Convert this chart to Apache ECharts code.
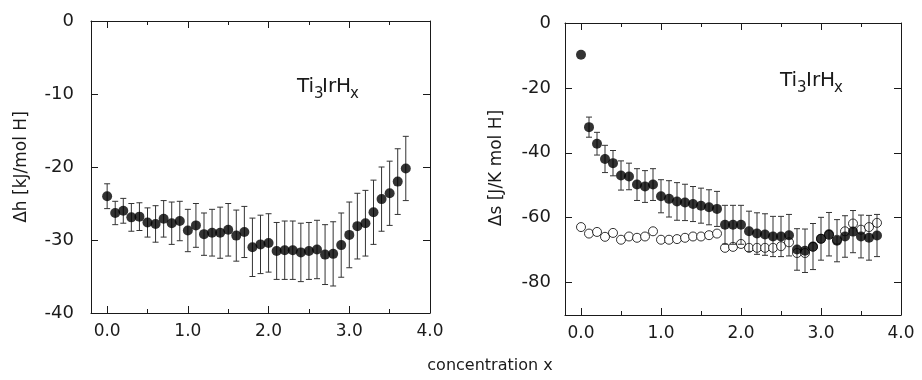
<!DOCTYPE html>
<html><head><meta charset="utf-8">
<script src="https://cdn.jsdelivr.net/npm/echarts@6/dist/echarts.min.js"></script>
<style>html,body{margin:0;padding:0;background:#fff}#c{width:922px;height:380px}</style>
</head><body><div id="c"></div>
<script>
// ---- data ----
const xConc = [0.0,0.1,0.2,0.3,0.4,0.5,0.6,0.7,0.8,0.9,1.0,1.1,1.2,1.3,1.4,1.5,1.6,1.7,1.8,1.9,
               2.0,2.1,2.2,2.3,2.4,2.5,2.6,2.7,2.8,2.9,3.0,3.1,3.2,3.3,3.4,3.5,3.6,3.7];
const dhValues = [-24.0,-26.3,-26.0,-26.9,-26.8,-27.6,-27.8,-27.1,-27.7,-27.4,
                  -28.7,-28.0,-29.2,-29.0,-29.0,-28.6,-29.4,-28.9,-31.0,-30.6,
                  -30.4,-31.5,-31.4,-31.4,-31.7,-31.5,-31.3,-32.0,-31.9,-30.7,
                  -29.3,-28.1,-27.7,-26.2,-24.4,-23.6,-22.0,-20.2];
const dhErrors = [1.7,1.6,1.7,1.9,1.9,2.0,2.5,2.5,2.9,2.7,
                  2.9,3.0,2.9,3.2,3.5,3.6,3.5,3.5,4.0,4.0,
                  4.0,3.9,4.0,4.0,4.0,3.9,4.0,4.1,4.4,4.4,
                  4.5,4.5,4.5,4.4,4.4,4.4,4.5,4.4];
const dsFilled = [-9.8,-32.1,-37.2,-41.9,-43.2,-47.0,-47.3,-49.8,-50.4,-49.8,
                  -53.4,-54.2,-55.0,-55.3,-55.8,-56.3,-56.8,-57.3,-62.2,-62.2,
                  -62.2,-64.2,-64.9,-65.2,-65.8,-65.8,-65.4,-69.8,-70.2,-68.9,
                  -66.5,-65.1,-67.1,-65.8,-64.3,-65.8,-66.2,-65.5];
const dsErrors = [0,3.1,3.5,4.2,3.9,4.5,4.1,4.9,4.9,4.9,
                  5.1,5.6,5.8,5.6,5.4,5.4,5.4,5.4,6.0,6.0,
                  6.0,6.2,6.4,6.4,6.2,6.2,6.4,6.4,6.7,7.1,
                  6.6,6.7,6.5,6.4,6.5,6.6,6.9,6.5];
const dsOpen = [-62.9,-64.9,-64.4,-65.9,-64.7,-66.8,-65.8,-66.2,-65.8,-64.2,
                -66.8,-66.8,-66.6,-66.2,-65.8,-65.8,-65.4,-64.9,-69.3,-69.0,
                -68.1,-69.3,-69.3,-69.3,-69.3,-68.8,-67.6,-70.9,-70.9,-69.0,
                -66.5,-65.3,-66.8,-64.2,-61.8,-63.7,-62.9,-61.6];
const xMajorTicks = [0,1,2,3,4];
const xMinorTicks = [0.5,1.5,2.5,3.5];
const dhTicks = [0,-10,-20,-30,-40];
const dsTicks = [0,-20,-40,-60,-80];
const dhName = 'Δh [kJ/mol H]';
const dsName = 'Δs [J/K mol H]';
const xName = 'concentration x';

// ---- chart ----
const FONT = 'DejaVu Sans';
const INK = '#1a1a1a';
const chart = echarts.init(document.getElementById('c'), null, {renderer:'canvas'});

function xAxes(gi, min, max) {
  const base = {type:'value', gridIndex:gi, min:min, max:max, splitLine:{show:false},
    axisLine:{show:true, onZero:false, lineStyle:{color:INK, width:1}}};
  const tick = (vals, len) => ({show:true, inside:true, length:len, customValues:vals, lineStyle:{color:INK, width:1}});
  return [
    Object.assign({}, base, {position:'bottom', axisTick:tick(xMajorTicks,7),
      axisLabel:{show:true, customValues:xMajorTicks, formatter:v=>Number(v).toFixed(1), margin:10,
        fontSize:17, color:INK, fontFamily:FONT}}),
    Object.assign({}, base, {position:'bottom', axisLine:{show:false, onZero:false}, axisTick:tick(xMinorTicks,4), axisLabel:{show:false}}),
    Object.assign({}, base, {position:'top', axisTick:tick(xMajorTicks,7), axisLabel:{show:false}}),
    Object.assign({}, base, {position:'top', axisLine:{show:false, onZero:false}, axisTick:tick(xMinorTicks,4), axisLabel:{show:false}})
  ];
}
function yAxes(gi, min, max, ticks, margin) {
  const base = {type:'value', gridIndex:gi, min:min, max:max, splitLine:{show:false},
    axisLine:{show:true, onZero:false, lineStyle:{color:INK, width:1}},
    axisTick:{show:true, inside:true, length:7, customValues:ticks, lineStyle:{color:INK, width:1}}};
  return [
    Object.assign({}, base, {position:'left', axisLabel:{show:true, customValues:ticks, margin:margin,
      fontSize:18, color:INK, fontFamily:FONT, showMinLabel:true, showMaxLabel:true}}),
    Object.assign({}, base, {position:'right', axisLabel:{show:false}})
  ];
}
function errorSeries(xi, yi, vals, errs) {
  const data = [];
  vals.forEach((v,i)=>{ if (errs[i] > 0) data.push([xConc[i], v - errs[i], v + errs[i]]); });
  return {
    type:'custom', xAxisIndex:xi, yAxisIndex:yi, z:2, silent:true,
    encode:{x:0, y:[1,2]}, data:data,
    renderItem:function(params, api){
      const x = api.value(0);
      const lo = api.coord([x, api.value(1)]);
      const hi = api.coord([x, api.value(2)]);
      const hw = 3;
      const st = {stroke:'#333', lineWidth:1};
      return {type:'group', children:[
        {type:'line', shape:{x1:lo[0], y1:lo[1], x2:hi[0], y2:hi[1]}, style:st},
        {type:'line', shape:{x1:hi[0]-hw, y1:hi[1], x2:hi[0]+hw, y2:hi[1]}, style:st},
        {type:'line', shape:{x1:lo[0]-hw, y1:lo[1], x2:lo[0]+hw, y2:lo[1]}, style:st}
      ]};
    }
  };
}
function formula(x0, yc, xs) {
  const parts = [['Ti',0,0,20],['3',xs[0],7,15],['IrH',xs[1],0,20],['x',xs[2],7,15]];
  return parts.map(p => ({type:'text', x:x0+p[1], y:yc+p[2], silent:true,
    style:{text:p[0], fontSize:p[3], fontFamily:FONT, fill:INK, textAlign:'left', textVerticalAlign:'middle'}}));
}

const option = {
  animation:false,
  backgroundColor:'#fff',
  grid:[
    {left:91, top:21, width:339, height:292},
    {left:565, top:23, width:336, height:292}
  ],
  xAxis: xAxes(0, -0.2, 4).concat(xAxes(1, -0.2, 4)),
  yAxis: yAxes(0, -40, 0, dhTicks, 17).concat(yAxes(1, -90, 0, dsTicks, 14)),
  series:[
    errorSeries(0, 0, dhValues, dhErrors),
    {type:'scatter', xAxisIndex:0, yAxisIndex:0, z:3, symbol:'circle', symbolSize:10,
      itemStyle:{color:'#000'}, data:xConc.map((x,i)=>[x, dhValues[i]])},
    {type:'scatter', xAxisIndex:4, yAxisIndex:2, z:1, symbol:'circle', symbolSize:9,
      itemStyle:{color:'#fff', borderColor:'#000', borderWidth:1}, data:xConc.map((x,i)=>[x, dsOpen[i]])},
    errorSeries(4, 2, dsFilled, dsErrors),
    {type:'scatter', xAxisIndex:4, yAxisIndex:2, z:3, symbol:'circle', symbolSize:10,
      itemStyle:{color:'#000'}, data:xConc.map((x,i)=>[x, dsFilled[i]])}
  ],
  graphic:[
    {type:'text', x:22, y:167, rotation:Math.PI/2, silent:true,
      style:{text:dhName, fontSize:17, fontFamily:FONT, fill:INK, textAlign:'center', textVerticalAlign:'middle'}},
    {type:'text', x:497, y:168, rotation:Math.PI/2, silent:true,
      style:{text:dsName, fontSize:17, fontFamily:FONT, fill:INK, textAlign:'center', textVerticalAlign:'middle'}},
    {type:'text', x:490, y:366, silent:true,
      style:{text:xName, fontSize:16, fontFamily:FONT, fill:INK, textAlign:'center', textVerticalAlign:'middle'}}
  ].concat(formula(297, 87, [17, 25, 53])).concat(formula(780, 81, [17, 26, 54]))
};
chart.setOption(option);
</script>
</body></html>
